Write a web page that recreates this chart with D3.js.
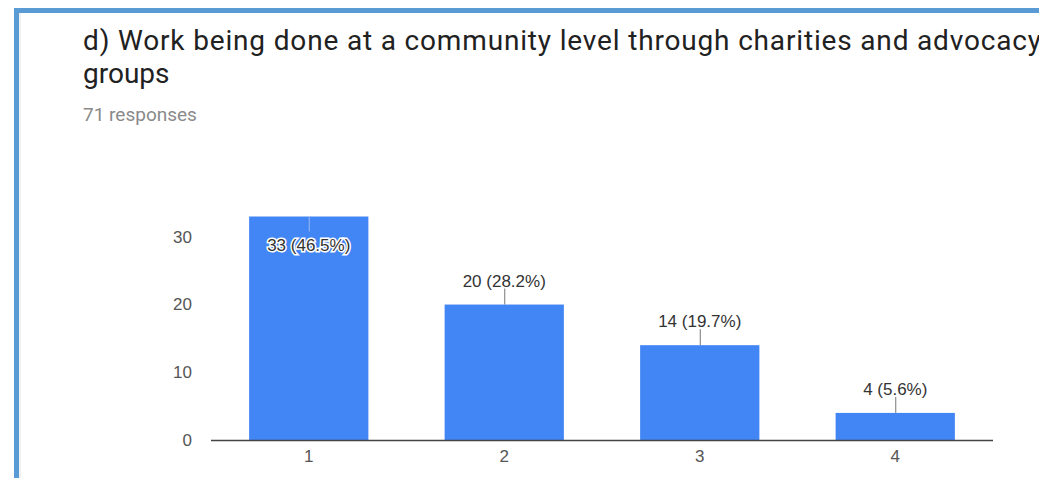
<!DOCTYPE html>
<html>
<head>
<meta charset="utf-8">
<script src="https://cdn.jsdelivr.net/npm/d3@7"></script>
<style>
  body { margin: 0; background: #fff; }
  svg { display: block; }
</style>
</head>
<body>
<svg id="chart" width="1039" height="478"></svg>
<script>
// chart values
const categories = ["1", "2", "3", "4"];
const counts = [33, 20, 14, 4];
const percents = ["46.5%", "28.2%", "19.7%", "5.6%"];
const yTicks = [0, 10, 20, 30];
const title = ["d) Work being done at a community level through charities and advocacy", "groups"];
const subtitle = "71 responses";

const svg = d3.select("#chart");

// card border (blue frame, cut off at right and bottom)
svg.append("rect").attr("x", 16.5).attr("y", 10.5).attr("width", 1100).attr("height", 600)
    .attr("fill", "none").attr("stroke", "#5b9bd5").attr("stroke-width", 5);
svg.append("line").attr("x1", 20).attr("x2", 20).attr("y1", 13).attr("y2", 478)
    .attr("stroke", "#e4e4e4").attr("stroke-width", 1);

// title, first line runs off the right edge like in the screenshot
svg.selectAll("text.title")
    .data(title)
    .enter().append("text")
    .attr("class", "title")
    .attr("x", 83)
    .attr("y", (d, i) => 50 + i * 33)
    .attr("font-family", "Roboto, Arial, sans-serif")
    .attr("font-size", 28)
    .attr("fill", "#212121")
    .attr("textLength", (d, i) => i === 0 ? 958 : null)
    .attr("lengthAdjust", "spacing")
    .text(d => d);

svg.append("text")
    .attr("x", 83).attr("y", 121)
    .attr("font-family", "Roboto, Arial, sans-serif")
    .attr("font-size", 19)
    .attr("fill", "#8a8a8a")
    .text(subtitle);

const x = d3.scaleBand().domain(categories).range([211, 993]).paddingInner(0.39).paddingOuter(0.195);
const y = d3.scaleLinear().domain([0, 33]).range([440, 216.5]);

const font = "Arial, 'Liberation Sans', sans-serif";

// y tick labels
svg.selectAll("text.ytick")
    .data(yTicks)
    .enter().append("text")
    .attr("class", "ytick")
    .attr("x", 192)
    .attr("y", d => y(d))
    .attr("dy", "0.35em")
    .attr("text-anchor", "end")
    .attr("font-family", font)
    .attr("font-size", 17)
    .attr("fill", "#555")
    .text(d => d);

// bars
svg.selectAll("rect.bar")
    .data(counts)
    .enter().append("rect")
    .attr("class", "bar")
    .attr("x", (d, i) => x(categories[i]))
    .attr("y", d => y(d))
    .attr("width", x.bandwidth())
    .attr("height", d => y(0) - y(d))
    .attr("fill", "#4285f4");

// baseline
svg.append("line")
    .attr("x1", 211).attr("x2", 993)
    .attr("y1", y(0) + 0.5).attr("y2", y(0) + 0.5)
    .attr("stroke", "#444").attr("stroke-width", 1.5);

// x labels
svg.selectAll("text.xtick")
    .data(categories)
    .enter().append("text")
    .attr("class", "xtick")
    .attr("x", d => x(d) + x.bandwidth() / 2)
    .attr("y", 462)
    .attr("text-anchor", "middle")
    .attr("font-family", font)
    .attr("font-size", 17)
    .attr("fill", "#555")
    .text(d => d);

// annotations: the tallest bar gets its label inside with a halo
const inside = (d) => d === d3.max(counts);

svg.selectAll("line.lead")
    .data(counts)
    .enter().append("line")
    .attr("class", "lead")
    .attr("x1", (d, i) => x(categories[i]) + x.bandwidth() / 2 + 0.5)
    .attr("x2", (d, i) => x(categories[i]) + x.bandwidth() / 2 + 0.5)
    .attr("y1", d => y(d))
    .attr("y2", d => inside(d) ? y(d) + 15 : y(d) - 16)
    .attr("stroke", d => inside(d) ? "#9ab9f0" : "#777")
    .attr("stroke-width", 1);

svg.selectAll("text.ann")
    .data(counts)
    .enter().append("text")
    .attr("class", "ann")
    .attr("x", (d, i) => x(categories[i]) + x.bandwidth() / 2)
    .attr("y", d => inside(d) ? y(d) + 34 : y(d) - 18)
    .attr("text-anchor", "middle")
    .attr("font-family", font)
    .attr("font-size", 17)
    .attr("fill", "#333")
    .attr("stroke", d => inside(d) ? "#fff" : "none")
    .attr("stroke-width", 3)
    .attr("paint-order", "stroke")
    .text((d, i) => d + " (" + percents[i] + ")");
</script>
</body>
</html>
